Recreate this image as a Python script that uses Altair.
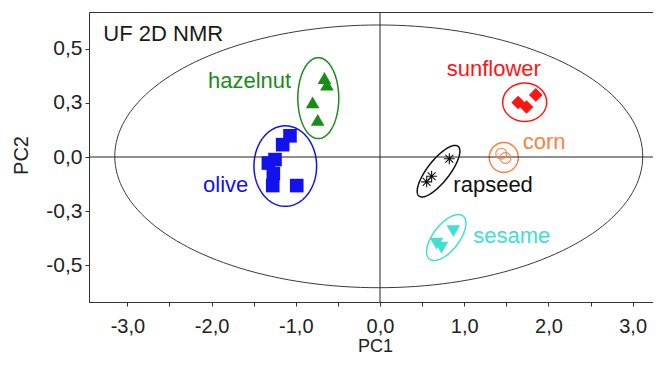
import altair as alt
import pandas as pd
import numpy as np

FONT = "Liberation Sans"

# ---- groups / styling lists ----
groups = ["hazelnut", "olive", "sunflower", "corn", "rapseed", "sesame"]
group_colors = ["#1a8c1a", "#1212f0", "#ff1414", "#ff7f3f", "#111111", "#40e0d0"]
ASTERISK = "M-1,0L1,0M0,-1L0,1M-0.72,-0.72L0.72,0.72M-0.72,0.72L0.72,-0.72"
group_shapes = ["triangle-up", "square", "diamond", "circle", ASTERISK, "triangle-down"]

# ---- scores (PC1, PC2) ----
hazelnut_x = [-0.66, -0.63, -0.80, -0.74]
hazelnut_y = [0.365, 0.334, 0.252, 0.172]
olive_x = [-1.069, -1.156, -1.247, -1.326, -1.267, -1.274, -0.989]
olive_y = [0.098, 0.057, -0.012, -0.028, -0.077, -0.132, -0.132]
sunflower_x = [1.64, 1.74, 1.85]
sunflower_y = [0.252, 0.231, 0.287]
corn_x = [1.44, 1.49]
corn_y = [0.015, -0.005]
rapseed_x = [0.823, 0.613, 0.554]
rapseed_y = [-0.008, -0.089, -0.115]
sesame_x = [0.871, 0.671, 0.730]
sesame_y = [-0.343, -0.400, -0.419]

# ---- confidence ellipses: centre, half-axis vectors u and v ----
ell_names = ["T2", "hazelnut", "olive", "sunflower", "corn", "rapseed", "sesame"]
ell_cx = [-0.015, -0.733, -1.125, 1.718, 1.47, 0.695, 0.787]
ell_cy = [0.003, 0.272, -0.042, 0.253, -0.002, -0.0655, -0.372]
ell_ux = [3.135, 0.243, 0.372, 0.261, 0.172, 0.2316, 0.1987]
ell_uy = [0.0, 0.0, 0.0, 0.0, 0.0, 0.1149, 0.0996]
ell_vx = [0.0, 0.0, 0.0, 0.0, 0.0, 0.1028, 0.122]
ell_vy = [0.607, 0.187, 0.186, 0.0886, 0.069, -0.0313, -0.0368]

# ---- labels ----
label_text = ["hazelnut", "olive", "sunflower", "corn", "rapseed", "sesame"]
label_x = [-2.043, -2.102, 0.792, 1.695, 0.871, 1.108]
label_y = [0.318, -0.163, 0.375, 0.037, -0.161, -0.3955]
panel_title = "UF 2D NMR"
panel_title_x = -3.286
panel_title_y = 0.538

# ---- axes ticks ----
x_tick_values = [-3.0, -2.5, -2.0, -1.5, -1.0, -0.5, 0.0, 0.5, 1.0, 1.5, 2.0, 2.5, 3.0]
x_tick_labels = ["-3,0", "", "-2,0", "", "-1,0", "", "0,0", "", "1,0", "", "2,0", "", "3,0"]
y_tick_values = [-0.5, -0.25, 0.0, 0.25, 0.5]
y_tick_labels = ["-0,5", "-0,3", "0,0", "0,3", "0,5"]


def label_expr(values, labels):
    expr = "''"
    for v, l in reversed(list(zip(values, labels))):
        expr = f"datum.value == {v} ? '{l}' : ({expr})"
    return expr


# ---- tables ----
pts = []
for g, xs, ys in [("hazelnut", hazelnut_x, hazelnut_y), ("olive", olive_x, olive_y),
                  ("sunflower", sunflower_x, sunflower_y), ("corn", corn_x, corn_y),
                  ("rapseed", rapseed_x, rapseed_y), ("sesame", sesame_x, sesame_y)]:
    for a, b in zip(xs, ys):
        pts.append({"group": g, "x": a, "y": b})
pts = pd.DataFrame(pts)
filled_pts = pts[pts.group.isin(["hazelnut", "olive", "sunflower", "sesame"])]
open_pts = pts[pts.group.isin(["corn", "rapseed"])]

t = np.linspace(0, 2 * np.pi, 181)
rows = []
for n, cx, cy, ux, uy, vx, vy in zip(ell_names, ell_cx, ell_cy, ell_ux, ell_uy, ell_vx, ell_vy):
    for i, tt in enumerate(t):
        rows.append({"group": n, "i": i,
                     "x": cx + ux * np.cos(tt) + vx * np.sin(tt),
                     "y": cy + uy * np.cos(tt) + vy * np.sin(tt)})
ell = pd.DataFrame(rows)
big_ell = ell[ell.group == "T2"]
small_ell = ell[ell.group != "T2"]

labels = pd.DataFrame({"group": groups, "text": label_text, "x": label_x, "y": label_y})
ptitle = pd.DataFrame({"text": [panel_title], "x": [panel_title_x], "y": [panel_title_y]})

# ---- encodings ----
x_scale = alt.Scale(domain=[-3.456, 3.337], nice=False, zero=False)
y_scale = alt.Scale(domain=[-0.67, 0.67], nice=False, zero=False)

x_axis = alt.Axis(values=x_tick_values, labelExpr=label_expr(x_tick_values, x_tick_labels),
                  title="PC1", grid=False, tickSize=4, labelPadding=10, labelFontSize=20,
                  labelFont=FONT, titleFont=FONT, titleFontSize=18, titleFontWeight="normal",
                  labelColor="#222222", titleColor="#222222", domainColor="#333333",
                  tickColor="#333333", labelOverlap=False, labelFlush=False,
                  titleY=35, titleBaseline="top")
y_axis = alt.Axis(values=y_tick_values, labelExpr=label_expr(y_tick_values, y_tick_labels),
                  title="PC2", grid=False, tickSize=4, labelPadding=3, labelFontSize=21,
                  labelFont=FONT, titleFont=FONT, titleFontSize=20, titleFontWeight="normal",
                  labelColor="#222222", titleColor="#222222", domainColor="#333333",
                  tickColor="#333333", labelOverlap=False, labelFlush=False,
                  titleX=-68, titleY=143, titleAlign="center", titleBaseline="middle",
                  titleAngle=-90)

X = alt.X("x:Q", scale=x_scale, axis=x_axis)
Y = alt.Y("y:Q", scale=y_scale, axis=y_axis)
color = alt.Color("group:N", scale=alt.Scale(domain=groups, range=group_colors), legend=None)
shape = alt.Shape("group:N", scale=alt.Scale(domain=groups, range=group_shapes), legend=None)

big = alt.Chart(big_ell).mark_line(color="#3a3a3a", strokeWidth=1).encode(
    x=X, y=Y, detail="group:N", order="i:Q")
small = alt.Chart(small_ell).mark_line(strokeWidth=1.5).encode(
    x=X, y=Y, color=color, detail="group:N", order="i:Q")

hrule = alt.Chart(pd.DataFrame({"y": [0.0]})).mark_rule(color="#222222", strokeWidth=1).encode(y=Y)
vrule = alt.Chart(pd.DataFrame({"x": [0.0]})).mark_rule(color="#222222", strokeWidth=1).encode(x=X)

filled = alt.Chart(filled_pts).mark_point(filled=True, opacity=1, size=185).encode(
    x=X, y=Y, color=color, shape=shape)
opened = alt.Chart(open_pts).mark_point(filled=False, opacity=1, size=120, strokeWidth=1.1).encode(
    x=X, y=Y, color=color, shape=shape)

texts = alt.Chart(labels).mark_text(font=FONT, fontSize=22, align="left", baseline="alphabetic").encode(
    x=X, y=Y, text="text:N", color=color)
ttl = alt.Chart(ptitle).mark_text(font=FONT, fontSize=22, align="left", baseline="alphabetic",
                                  color="#1a1a1a").encode(x=X, y=Y, text="text:N")

chart = alt.layer(big, small, hrule, vrule, filled, opened, texts, ttl).properties(
    width=572, height=290,
    padding={"left": 81, "top": 4, "right": -8, "bottom": 55},
    autosize=alt.AutoSizeParams(type="none"),
    background="white",
).configure_view(stroke="#333333", strokeWidth=1)

chart.save("out.html", embed_options={"renderer": "svg", "actions": False})
